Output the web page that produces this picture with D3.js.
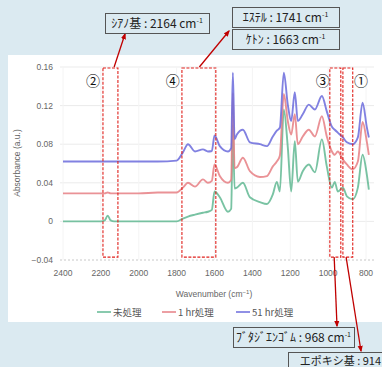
<!DOCTYPE html>
<html>
<head>
<meta charset="utf-8">
<script src="https://cdn.jsdelivr.net/npm/d3@7"></script>
<style>
  html, body { margin: 0; padding: 0; background: #dbeaf1; overflow: hidden; }
  svg { display: block; }
</style>
</head>
<body>
<svg id="chart" width="382" height="367"></svg>
<script>
// wavenumber grid (cm-1) shared by the three spectra
const wavenumbers = [2400, 2300, 2200, 2180, 2164, 2148, 2130, 2000, 1900, 1800,
  1767, 1740, 1703, 1661, 1635, 1614, 1600, 1572, 1529, 1512,
  1503, 1494, 1482, 1450, 1413, 1360, 1323, 1292, 1271, 1255,
  1234, 1213, 1195, 1176, 1160, 1134, 1102, 1070, 1033, 1007,
  980, 965, 949, 922, 901, 870, 843, 818, 796, 785];

const untreated = [0, 0, 0, 0.001, 0.006, 0.001, 0, 0, 0, 0,
  0.003, 0.005, 0.007, 0.009, 0.010, 0.012, 0.031, 0.025, 0.010, 0.013,
  0.100, 0.034, 0.035, 0.040, 0.025, 0.020, 0.018, 0.028, 0.041, 0.031,
  0.116, 0.077, 0.031, 0.083, 0.041, 0.052, 0.059, 0.051, 0.085, 0.057,
  0.035, 0.041, 0.031, 0.035, 0.026, 0.023, 0.035, 0.069, 0.049, 0.033];

const treated1hr = [0.029, 0.029, 0.029, 0.029, 0.030, 0.029, 0.029, 0.029, 0.030, 0.030,
  0.035, 0.040, 0.036, 0.0435, 0.040, 0.042, 0.059, 0.047, 0.040, 0.043,
  0.133, 0.055, 0.056, 0.066, 0.052, 0.046, 0.047, 0.057, 0.062, 0.068,
  0.132, 0.104, 0.090, 0.111, 0.080, 0.088, 0.095, 0.088, 0.109, 0.088,
  0.0725, 0.069, 0.0725, 0.064, 0.059, 0.054, 0.062, 0.103, 0.083, 0.069];

const treated51hr = [0.062, 0.062, 0.062, 0.062, 0.062, 0.062, 0.062, 0.062, 0.062, 0.063,
  0.0715, 0.080, 0.0725, 0.0746, 0.0725, 0.073, 0.089, 0.078, 0.0725, 0.076,
  0.154, 0.085, 0.090, 0.095, 0.082, 0.080, 0.078, 0.088, 0.094, 0.097,
  0.154, 0.121, 0.104, 0.134, 0.104, 0.111, 0.121, 0.116, 0.130, 0.114,
  0.098, 0.095, 0.092, 0.087, 0.082, 0.080, 0.087, 0.123, 0.098, 0.087];

const seriesNames = ["未処理", "1 hr処理", "51 hr処理"];
const seriesColors = ["#62b893", "#e67f84", "#6b6bdc"];

const xTicks = [2400, 2200, 2000, 1800, 1600, 1400, 1200, 1000, 800];
const yTicks = [-0.04, 0, 0.04, 0.08, 0.12, 0.16];

// marked bands: [from, to] in cm-1, circled number and where it sits
const bandLabels = ["②", "④", "③", "①"];
const bandFrom = [2189, 1772, 991, 922];
const bandTo = [2110, 1593, 933, 870];
const bandLabelAt = [2242, 1820, 1028, 827];

const svg = d3.select("#chart");
const W = 382, H = 367;

// white panel
svg.append("rect").attr("x", 8).attr("y", 55).attr("width", W - 8).attr("height", 267).attr("fill", "#fff");

const x = d3.scaleLinear().domain([2400, 800]).range([63, 366]);
const y = d3.scaleLinear().domain([-0.04, 0.16]).range([260, 67]);

// grid
svg.append("g").selectAll("line").data(yTicks.filter(d => d > -0.04)).join("line")
  .attr("x1", 60).attr("x2", 374)
  .attr("y1", d => y(d)).attr("y2", d => y(d))
  .attr("stroke", "#ebebeb").attr("stroke-width", 1);
svg.append("g").selectAll("line").data(xTicks).join("line")
  .attr("x1", d => x(d)).attr("x2", d => x(d))
  .attr("y1", y(0.16)).attr("y2", y(-0.04))
  .attr("stroke", "#f4f4f4").attr("stroke-width", 1);
svg.append("line")
  .attr("x1", 60).attr("x2", 374).attr("y1", y(-0.04)).attr("y2", y(-0.04))
  .attr("stroke", "#c8c8c8").attr("stroke-dasharray", "2,2");

// tick labels
svg.append("g").selectAll("text").data(yTicks).join("text")
  .attr("x", 53).attr("y", d => y(d) + 3)
  .attr("text-anchor", "end")
  .attr("font-family", "Liberation Sans, Arial, sans-serif")
  .attr("font-size", 8.5).attr("fill", "#666")
  .text(d => d === 0 ? "0" : d3.format(".2f")(d));
svg.append("g").selectAll("text").data(xTicks).join("text")
  .attr("x", d => x(d)).attr("y", 276)
  .attr("text-anchor", "middle")
  .attr("font-family", "Liberation Sans, Arial, sans-serif")
  .attr("font-size", 8.5).attr("fill", "#666")
  .text(d => d);

// axis titles
svg.append("text")
  .attr("transform", "translate(20,163) rotate(-90)")
  .attr("text-anchor", "middle")
  .attr("font-family", "Liberation Sans, Arial, sans-serif")
  .attr("font-size", 8.5).attr("fill", "#666")
  .text("Absorbance (a.u.)");
const xt = svg.append("text")
  .attr("x", 214).attr("y", 297)
  .attr("text-anchor", "middle")
  .attr("font-family", "Liberation Sans, Arial, sans-serif")
  .attr("font-size", 8.5).attr("fill", "#666");
xt.append("tspan").text("Wavenumber (cm");
xt.append("tspan").attr("font-size", 6).attr("dy", -3).text("−1");
xt.append("tspan").attr("dy", 3).text(")");

// spectra
const line = d3.line()
  .x((d, i) => x(wavenumbers[i]))
  .y(d => y(d))
  .curve(d3.curveMonotoneX);
const spectra = [untreated, treated1hr, treated51hr];
svg.append("g").selectAll("path").data(spectra).join("path")
  .attr("d", line)
  .attr("fill", "none")
  .attr("stroke", (d, i) => seriesColors[i])
  .attr("stroke-width", 1.9)
  .attr("stroke-opacity", 0.85)
  .attr("stroke-linejoin", "round");

// legend
const legendX = [97, 162, 236];
const lg = svg.append("g").selectAll("g").data(seriesNames).join("g")
  .attr("transform", (d, i) => `translate(${legendX[i]},312)`);
lg.append("line").attr("x1", 0).attr("x2", 14)
  .attr("stroke", (d, i) => seriesColors[i]).attr("stroke-width", 1.5);
lg.append("text").attr("x", 16).attr("y", 3.5)
  .attr("font-family", "Noto Sans CJK JP, sans-serif")
  .attr("font-size", 9.5).attr("fill", "#555")
  .text(d => d);

// dashed bands + circled numbers
const bands = svg.append("g");
bands.selectAll("rect").data(bandLabels).join("rect")
  .attr("x", (d, i) => x(bandFrom[i]))
  .attr("width", (d, i) => x(bandTo[i]) - x(bandFrom[i]))
  .attr("y", y(0.159)).attr("height", y(-0.037) - y(0.159))
  .attr("fill", "none").attr("stroke", "#e0201c")
  .attr("stroke-width", 1.1).attr("stroke-dasharray", "3,1.5");
bands.selectAll("text").data(bandLabels).join("text")
  .attr("x", (d, i) => x(bandLabelAt[i])).attr("y", 86)
  .attr("text-anchor", "middle")
  .attr("font-family", "Noto Sans CJK JP, sans-serif")
  .attr("font-size", 14).attr("fill", "#111")
  .text(d => d);

// callouts
const defs = svg.append("defs");
defs.append("marker").attr("id", "ah").attr("viewBox", "0 0 10 10")
  .attr("refX", 8).attr("refY", 5).attr("markerWidth", 5).attr("markerHeight", 5)
  .attr("orient", "auto")
  .append("path").attr("d", "M0,1 L10,5 L0,9 z").attr("fill", "#c00000");

const arrows = [
  [x(2130), y(0.16), 125, 34],
  [x(1680), y(0.16), 229, 31],
  [x(968) , y(-0.037), 337, 326],
  [x(905), y(-0.037), 361, 351]
];
svg.append("g").selectAll("line").data(arrows).join("line")
  .attr("x1", d => d[0]).attr("y1", d => d[1])
  .attr("x2", d => d[2]).attr("y2", d => d[3])
  .attr("stroke", "#c00000").attr("stroke-width", 1.3)
  .attr("marker-end", "url(#ah)");

const callouts = [
  {x: 105, y: 13, w: 104, h: 20, name: "ｼｱﾉ基", val: "2164", unit: true},
  {x: 232, y: 7, w: 107, h: 20, name: "ｴｽﾃﾙ", val: "1741", unit: true},
  {x: 232, y: 29, w: 107, h: 20, name: "ｹﾄﾝ", val: "1663", unit: true},
  {x: 233, y: 327, w: 121, h: 20, name: "ﾌﾞﾀｼﾞｴﾝｺﾞﾑ", val: "968", unit: true},
  {x: 288, y: 352, w: 110, h: 22, name: "エポキシ基", val: "914", unit: false}
];
const cg = svg.append("g").selectAll("g").data(callouts).join("g");
cg.append("rect")
  .attr("x", d => d.x + 0.5).attr("y", d => d.y + 0.5)
  .attr("width", d => d.w).attr("height", d => d.h)
  .attr("fill", "#dbeaf1").attr("stroke", "#555").attr("stroke-width", 1);
const ct = cg.append("text")
  .attr("x", d => d.unit ? d.x + d.w / 2 : 381)
  .attr("y", d => d.unit ? d.y + d.h / 2 + 4.5 : d.y + 12.5)
  .attr("text-anchor", d => d.unit ? "middle" : "end")
  .attr("font-family", "Noto Sans CJK JP, sans-serif")
  .attr("font-size", d => d.unit ? 12 : 11).attr("fill", "#222");
ct.append("tspan").text(d => d.name + " : " + d.val + (d.unit ? " cm" : ""));
ct.filter(d => d.unit).append("tspan").attr("font-size", 7).attr("dy", -5).text("-1");
</script>
</body>
</html>
